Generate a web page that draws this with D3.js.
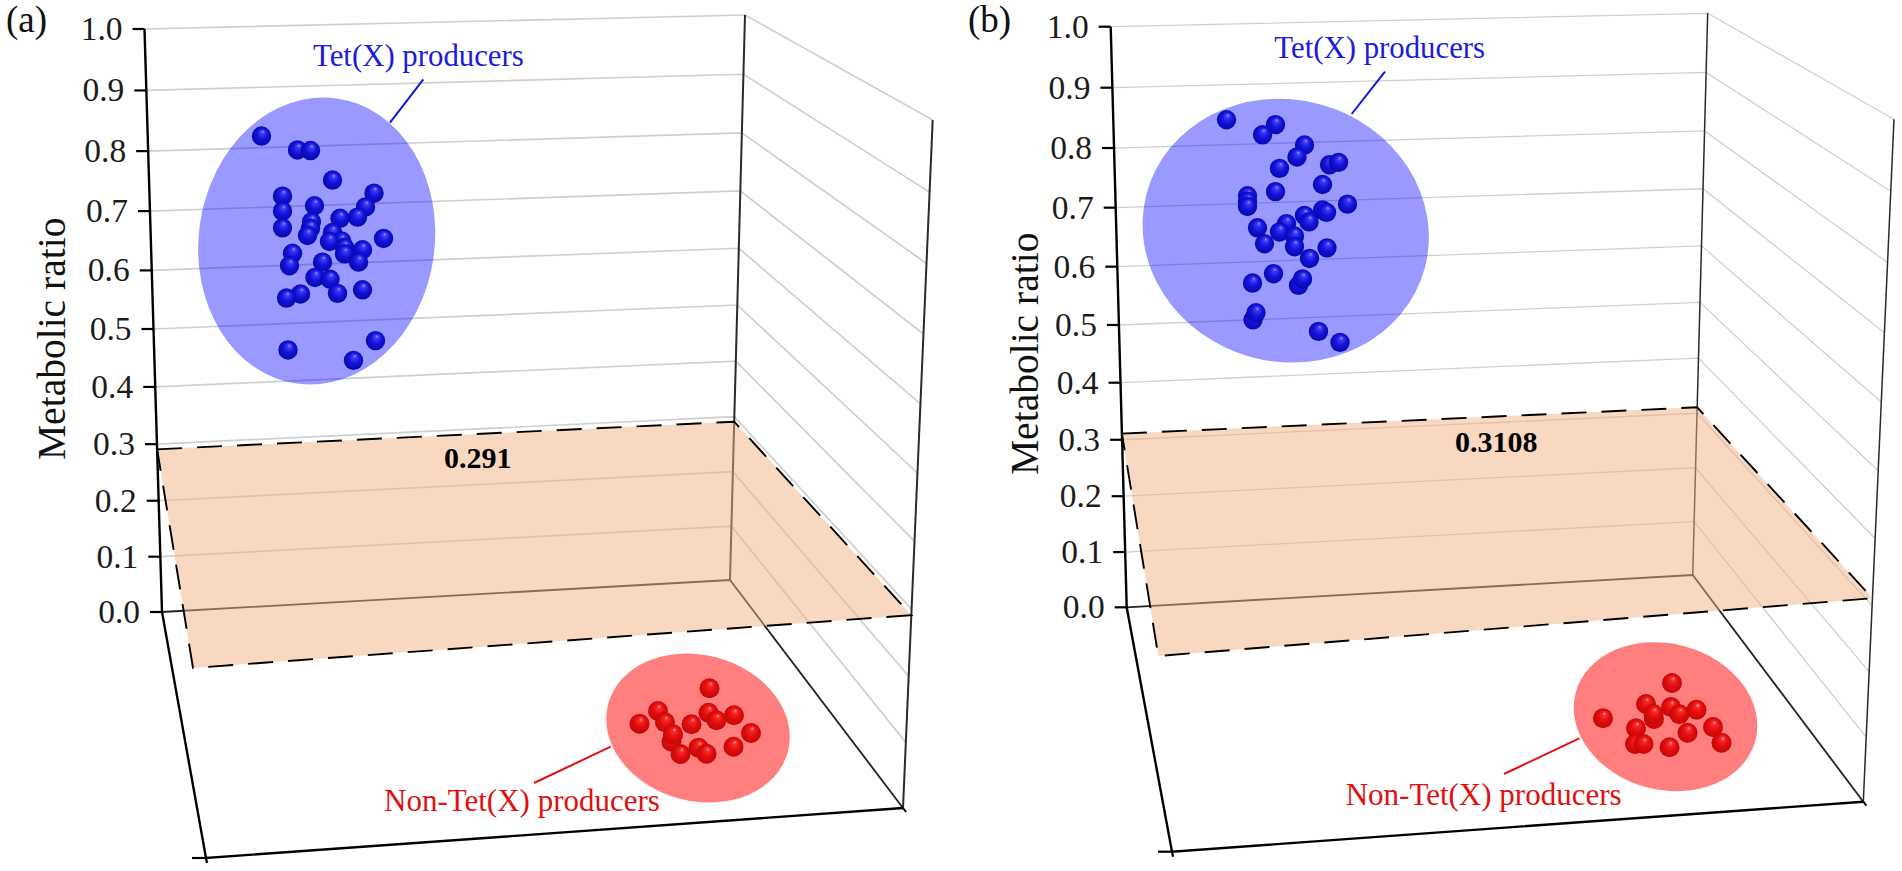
<!DOCTYPE html>
<html>
<head>
<meta charset="utf-8">
<style>
  html, body { margin: 0; padding: 0; background: #fff; overflow: hidden; }
  text { font-family: "Liberation Serif", serif; }
</style>
<script src="https://cdn.jsdelivr.net/npm/d3@7.9.0/dist/d3.min.js"></script>
</head>
<body>
<svg id="chart" width="1902" height="871"></svg>
<script>
// Axis values shared by both panels
const ratioTicks = [0, 0.1, 0.2, 0.3, 0.4, 0.5, 0.6, 0.7, 0.8, 0.9, 1];

// Panel (a), values
const thresholdA = 0.291;
const tetPosA = [22.3, 29.5, 32.1, 36.5, 26.5, 44.8, 32.9, 43.1, 26.5, 41.5, 38, 32.3, 26.5, 32.1, 36.5, 31.5, 46.7, 38.3, 35.9, 38.9, 42.5, 28.5, 38.9, 41.7, 34.5, 27.9, 33, 36, 37.5, 42.5, 30.1, 27.3, 45.1, 27.6, 40.7];
const tetRatioA = [0.825, 0.802, 0.801, 0.752, 0.725, 0.73, 0.709, 0.707, 0.7, 0.69, 0.688, 0.682, 0.672, 0.671, 0.664, 0.659, 0.654, 0.65, 0.649, 0.639, 0.635, 0.629, 0.628, 0.614, 0.614, 0.608, 0.588, 0.585, 0.561, 0.567, 0.56, 0.553, 0.48, 0.464, 0.446];
const nonPosA = [111.9, 101.6, 111.7, 116.8, 103, 113.3, 97.9, 108.3, 120.2, 104.3, 104.6, 109.7, 116.7, 106.1, 111.3];
const nonDepthA = [35.3, 44.4, 45.1, 46.1, 48.9, 48.1, 49.5, 49.7, 53.2, 56.7, 53.7, 59.1, 58.7, 61.6, 61.5];

// Panel (b)
const thresholdB = 0.3108;
const tetPosB = [22.3, 32.1, 29.5, 37.9, 36.4, 42.9, 44.7, 32.9, 41.5, 32.1, 26.5, 26.5, 26.5, 46.5, 41.5, 42.3, 37.9, 38.8, 34.3, 28.5, 32.9, 35.9, 29.9, 35.9, 42.4, 38.9, 31.7, 36.7, 37.5, 27.5, 27.6, 28.2, 40.7, 45];
const tetRatioB = [0.847, 0.839, 0.822, 0.805, 0.785, 0.772, 0.776, 0.766, 0.739, 0.727, 0.72, 0.711, 0.702, 0.706, 0.696, 0.692, 0.687, 0.676, 0.673, 0.666, 0.659, 0.652, 0.639, 0.634, 0.632, 0.614, 0.588, 0.568, 0.579, 0.572, 0.509, 0.521, 0.489, 0.47];
const nonPosB = [111.4, 106.2, 111.2, 116.3, 112.9, 107.8, 107.7, 97.6, 104.2, 119.6, 114.5, 104, 105.7, 121.3, 110.9];
const nonDepthB = [35.2, 43.6, 44.8, 45.9, 47.7, 49.6, 47.6, 49.3, 53.3, 52.8, 55.1, 59.6, 59.6, 59.1, 60.9];

const tetLabel = 'Tet(X) producers';
const nonLabel = 'Non-Tet(X) producers';
const yTitle = 'Metabolic ratio';

const tetBlue = '#0000ff';
const nonRed = '#ff0000';
const planeFill = '#f4b183';

const svg = d3.select('#chart');
const defs = svg.append('defs');

// Shaded balls
function addBall(id, stops) {
  const g = defs.append('radialGradient').attr('id', id)
    .attr('cx', '50%').attr('cy', '50%').attr('r', '52%')
    .attr('fx', '58%').attr('fy', '26%');
  stops.forEach(s => g.append('stop').attr('offset', s[0]).attr('stop-color', s[1]));
}
addBall('ballBlue', [[0, '#8f8fff'], [0.2, '#3a3af2'], [0.55, '#1212dc'], [0.9, '#0a0ab4'], [1, '#08088c']]);
addBall('ballRed', [[0, '#ff9a9a'], [0.2, '#f52a2a'], [0.55, '#e40c0c'], [0.9, '#c80808'], [1, '#a40606']]);

// Perspective scale along a vertical edge: d3 linear scales on a warped value.
// mid is the pixel y of value 0.5, it sets how much the spacing shrinks towards the top.
function edgeScale(bottom, top, midY) {
  const w = (bottom[1] - midY) / (midY - top[1]);
  const warp = v => v * w / ((1 - v) + v * w);
  const sx = d3.scaleLinear().domain([0, 1]).range([bottom[0], top[0]]);
  const sy = d3.scaleLinear().domain([0, 1]).range([bottom[1], top[1]]);
  return v => [sx(warp(v)), sy(warp(v))];
}

function drawPanel(p) {
  const g = svg.append('g');
  const left = edgeScale(p.left[0], p.left[1], p.left[2]);
  const back = edgeScale(p.back[0], p.back[1], p.back[2]);
  const right = edgeScale(p.right[0], p.right[1], p.right[2]);
  const front = edgeScale(p.front[0], p.front[1], p.front[2]);
  const line = d3.line();

  const xPos = d3.scaleLinear().domain([0, 130]).range(p.xRange);
  const depth = d3.scaleLinear().domain([0, 100]).range(p.depthRange);

  // gridlines on the two walls
  g.append('g').selectAll('path')
    .data(ratioTicks.filter(v => v > 0))
    .join('path')
    .attr('d', v => line([left(v), back(v), right(v)]))
    .attr('fill', 'none')
    .attr('stroke', '#cfcfcf')
    .attr('stroke-width', p.gridWidth);

  // wall and floor edges
  const edges = [
    { pts: [back(0), back(1)], c: '#2a2a2a', w: p.edgeWidth },
    { pts: [right(0), right(1)], c: '#2a2a2a', w: p.edgeWidth },
    { pts: [left(0), back(0), right(0)], c: '#222', w: 1.8 },
    { pts: [left(1), left(0), p.front[0], right(0)], c: '#000', w: 2.4 }
  ];
  g.append('g').selectAll('path')
    .data(edges)
    .join('path')
    .attr('d', d => line(d.pts))
    .attr('fill', 'none')
    .attr('stroke', d => d.c)
    .attr('stroke-width', d => d.w);

  // ticks and labels on the left axis
  const tick = g.append('g').selectAll('g').data(ratioTicks).join('g');
  tick.append('line')
    .attr('x1', v => left(v)[0] - 12).attr('x2', v => left(v)[0])
    .attr('y1', v => left(v)[1]).attr('y2', v => left(v)[1])
    .attr('stroke', '#000').attr('stroke-width', 2.2);
  tick.append('text')
    .attr('x', v => left(v)[0] - 22)
    .attr('y', v => left(v)[1] + 11)
    .attr('text-anchor', 'end')
    .attr('font-size', 33.5)
    .attr('fill', '#1c1c1c')
    .text(d3.format('.1f'));

  // bottom tick at the front corner and small stub at the right corner
  g.append('line')
    .attr('x1', p.front[0][0] - 14).attr('x2', p.front[0][0])
    .attr('y1', p.front[0][1]).attr('y2', p.front[0][1])
    .attr('stroke', '#000').attr('stroke-width', 2.2);
  g.append('line')
    .attr('x1', p.front[0][0]).attr('x2', p.front[0][0] + 1)
    .attr('y1', p.front[0][1]).attr('y2', p.front[0][1] + 5)
    .attr('stroke', '#000').attr('stroke-width', 2.2);
  g.append('line')
    .attr('x1', p.right[0][0]).attr('x2', p.right[0][0] + 3)
    .attr('y1', p.right[0][1]).attr('y2', p.right[0][1] + 4)
    .attr('stroke', '#000').attr('stroke-width', 2);

  // threshold plane
  const plane = [left(p.threshold), back(p.threshold), right(p.threshold), front(p.threshold)];
  g.append('path')
    .attr('d', line(plane) + 'Z')
    .attr('fill', planeFill)
    .attr('fill-opacity', 0.5);
  g.append('path')
    .attr('d', line(plane) + 'Z')
    .attr('fill', 'none')
    .attr('stroke', '#000')
    .attr('stroke-width', 1.9)
    .attr('stroke-dasharray', '25 15');
  g.append('text')
    .attr('x', p.thresholdText[0]).attr('y', p.thresholdText[1])
    .attr('font-size', 30).attr('font-weight', 'bold')
    .attr('fill', '#000')
    .text(p.threshold);

  // group ellipses
  p.ellipses.forEach(e => {
    g.append('ellipse')
      .attr('rx', e.rx).attr('ry', e.ry)
      .attr('transform', `translate(${e.cx},${e.cy}) rotate(${e.rot})`)
      .attr('fill', e.color)
      .attr('fill-opacity', e.alpha);
  });

  // points
  g.append('g').selectAll('circle')
    .data(d3.zip(p.tetPos, p.tetRatio))
    .join('circle')
    .attr('cx', d => xPos(d[0]))
    .attr('cy', d => left(d[1])[1])
    .attr('r', 9.7)
    .attr('fill', 'url(#ballBlue)');
  g.append('g').selectAll('circle')
    .data(d3.zip(p.nonPos, p.nonDepth))
    .join('circle')
    .attr('cx', d => xPos(d[0]))
    .attr('cy', d => depth(d[1]))
    .attr('r', 10)
    .attr('fill', 'url(#ballRed)');

  // leaders and labels
  g.append('path').attr('d', line(p.tetLeader))
    .attr('stroke', '#1414dc').attr('stroke-width', 2).attr('fill', 'none');
  g.append('path').attr('d', line(p.nonLeader))
    .attr('stroke', '#e01010').attr('stroke-width', 2).attr('fill', 'none');
  g.append('text')
    .attr('x', p.tetText[0]).attr('y', p.tetText[1])
    .attr('font-size', 30.8).attr('fill', '#1a1ae0')
    .text(tetLabel);
  g.append('text')
    .attr('x', p.nonText[0]).attr('y', p.nonText[1])
    .attr('font-size', 31).attr('fill', '#e01010')
    .text(nonLabel);

  g.append('text')
    .attr('x', p.tag[0]).attr('y', p.tag[1])
    .attr('font-size', 37).attr('fill', '#111')
    .text(p.tagText);
  g.append('text')
    .attr('transform', `translate(${p.title[0]},${p.title[1]}) rotate(-90)`)
    .attr('font-size', 39.5).attr('fill', '#111')
    .text(yTitle);
}

drawPanel({
  tagText: '(a)', tag: [6, 32], title: [65, 460],
  threshold: thresholdA, thresholdText: [444, 468],
  left: [[162, 612], [144.5, 29], 329],
  back: [[730, 580], [745, 15], 305],
  right: [[903, 808], [932.7, 120], 473],
  front: [[206, 858], [159, 170], 526.5],
  xRange: [150, 800], depthRange: [600, 850],
  gridWidth: 1.7, edgeWidth: 2,
  tetPos: tetPosA, tetRatio: tetRatioA, nonPos: nonPosA, nonDepth: nonDepthA,
  ellipses: [
    { cx: 316.7, cy: 241, rx: 118, ry: 144, rot: 8, color: tetBlue, alpha: 0.4 },
    { cx: 698, cy: 728, rx: 93, ry: 73, rot: 15, color: nonRed, alpha: 0.5 }
  ],
  tetLeader: [[423.3, 79.3], [390, 122.7]],
  nonLeader: [[534, 783], [610.7, 746.7]],
  tetText: [313, 65.7], nonText: [384, 810.7]
});

drawPanel({
  tagText: '(b)', tag: [968, 32], title: [1038, 475],
  threshold: thresholdB, thresholdText: [1455, 452],
  left: [[1126.7, 607.3], [1110.7, 26.7], 325],
  back: [[1692.7, 575], [1707.7, 13.3], 302.3],
  right: [[1863.3, 801.7], [1894, 119.3], 470.7],
  front: [[1172, 851.7], [1125.6, 189.4], 532.5],
  xRange: [1115, 1765], depthRange: [595, 845],
  gridWidth: 1.3, edgeWidth: 1.5,
  tetPos: tetPosB, tetRatio: tetRatioB, nonPos: nonPosB, nonDepth: nonDepthB,
  ellipses: [
    { cx: 1285.7, cy: 230.7, rx: 144, ry: 131, rot: 15, color: tetBlue, alpha: 0.4 },
    { cx: 1665.5, cy: 716.7, rx: 93, ry: 73, rot: 15, color: nonRed, alpha: 0.5 }
  ],
  tetLeader: [[1385, 71.7], [1351.7, 114]],
  nonLeader: [[1504, 774], [1579.3, 738.3]],
  tetText: [1274.3, 58.3], nonText: [1345.7, 805]
});
</script>
</body>
</html>
